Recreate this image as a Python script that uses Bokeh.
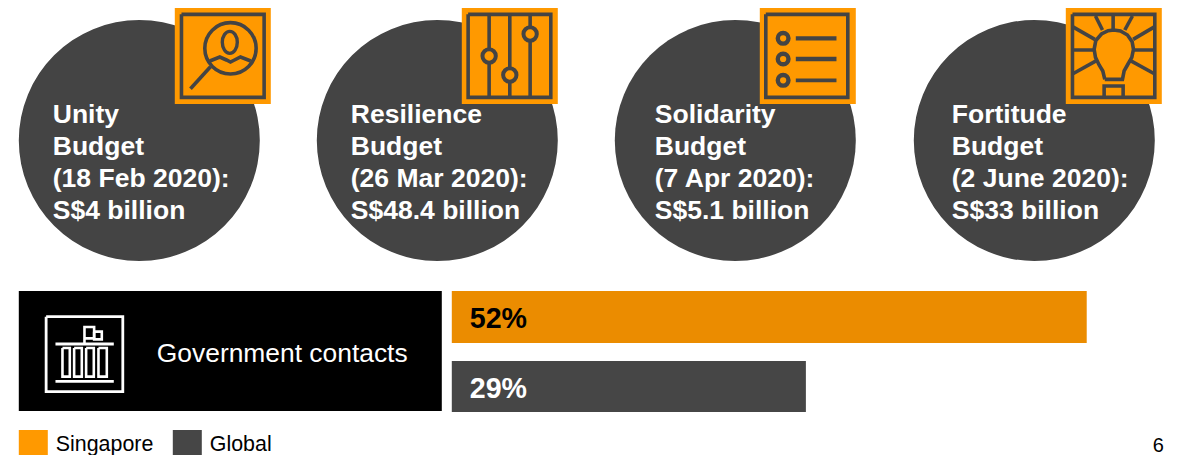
from bokeh.embed import file_html
from bokeh.resources import INLINE
from bokeh.plotting import figure
from bokeh.models import Range1d
from bokeh.core.properties import value

# Budget packages
budget_names = ["Unity", "Resilience", "Solidarity", "Fortitude"]
budget_dates = ["18 Feb 2020", "26 Mar 2020", "7 Apr 2020", "2 June 2020"]
budget_amounts = ["S$4 billion", "S$48.4 billion", "S$5.1 billion", "S$33 billion"]

# Share of respondents using government contacts
series_names = ["Singapore", "Global"]
series_values = [52, 29]
row_label = "Government contacts"
page_number = "6"

DARK = "#444444"
ORANGE = "#FF9900"
BAR_ORANGE = "#EB8C00"
BAR_DARK = "#464646"
FONT = "Liberation Sans"

W, H = 1181, 455
NUDGE_X, NUDGE_Y = 0.7, 0.5
p = figure(width=W, height=H, x_range=Range1d(NUDGE_X, W + NUDGE_X),
           y_range=Range1d(H + NUDGE_Y, NUDGE_Y),
           output_backend="svg", toolbar_location=None, min_border=0,
           background_fill_color="white", border_fill_color="white")
p.axis.visible = False
p.grid.visible = False
p.outline_line_color = None

# Percent scale for the bars: zero sits at pixel 452, 12.21 pixels per point
PX_PER_PCT = 12.21
BAR_ZERO = 452
p.extra_x_ranges["pct"] = Range1d((NUDGE_X - BAR_ZERO) / PX_PER_PCT,
                                  (W + NUDGE_X - BAR_ZERO) / PX_PER_PCT)


def label(x, y, s, size, color="black", bold=False, baseline="middle"):
    p.text([x], [y], text=[s], text_font=value(FONT), text_font_size=f"{size}px",
           text_color=color, text_baseline=baseline, text_align="left",
           text_font_style="bold" if bold else "normal")


def poly(points, ox, oy, color=DARK, width=3.6):
    """Stroke a path given in 3x local icon units relative to (ox, oy)."""
    p.line([ox + a / 3 for a, _ in points], [oy + b / 3 for _, b in points],
           line_color=color, line_width=width, line_join="miter")


def ring(cx, cy, r, ox, oy, color=DARK, width=3.6, fill=None):
    p.scatter([ox + cx / 3], [oy + cy / 3], size=2 * r / 3, marker="circle",
              line_color=color, line_width=width,
              fill_color=fill, fill_alpha=1 if fill else 0)


def frame(x0, x1, y0, y1, ox, oy, color=DARK, width=3.6):
    poly([(x0, y0), (x1, y0), (x1, y1), (x0, y1), (x0, y0)], ox, oy, color, width)


# Dark discs
disc_x = [139.5, 437.5, 735.5, 1034.5]
p.circle(disc_x, [140.5] * 4, radius=120.5, fill_color=DARK, line_color=None)

# Orange icon tiles
tile_left = [175, 462, 760, 1066]
p.quad(left=tile_left, right=[t + 96 for t in tile_left], top=[8] * 4, bottom=[104] * 4,
       fill_color=ORANGE, line_color=None)

# Magnifier with a person inside
ox = 170
frame(35, 283, 43, 292, ox, 0)
ring(182, 145, 77, ox, 0)
p.ellipse([ox + 180 / 3], [127 / 3], width=15, height=22, fill_color=None,
          line_color=DARK, line_width=3.4)
poly([(120, 183), (150, 171), (170, 180), (182, 186), (194, 180), (212, 171), (243, 183)], ox, 0)
poly([(122, 200), (62, 266)], ox, 0)

# Slider controls
ox = 455
frame(40, 288, 43, 292, ox, 0)
for lx in (103, 165, 226):
    poly([(lx, 43), (lx, 292)], ox, 0)
ring(103, 168, 20, ox, 0, fill=ORANGE, width=4)
ring(165, 225, 20, ox, 0, fill=ORANGE, width=4)
ring(226, 102, 20, ox, 0, fill=ORANGE, width=4)

# Checklist
ox = 755
frame(33, 279, 43, 292, ox, 0)
for ly, lw in ((115, 4.4), (177, 4.4), (241, 3.6)):
    ring(85, ly, 16, ox, 0, width=4.4)
    poly([(123, ly), (245, ly)], ox, 0, width=lw)

# Light bulb with rays
ox = 1060
frame(38, 285, 43, 292, ox, 0)
poly([(135, 238), (129, 213), (118, 195), (107, 172), (103, 148), (108, 122), (125, 102),
      (145, 92), (162, 90), (182, 93), (203, 105), (217, 125), (221, 148), (216, 172),
      (203, 195), (193, 213), (188, 238), (135, 238)], ox, 0)
poly([(133, 292), (133, 258), (190, 258), (190, 292)], ox, 0)
for ray in ([(160, 43), (160, 88)], [(107, 48), (128, 90)], [(218, 48), (195, 90)],
            [(38, 80), (105, 118)], [(285, 80), (220, 118)], [(38, 150), (103, 150)],
            [(285, 150), (222, 150)], [(38, 222), (110, 182)], [(285, 222), (212, 182)]):
    poly(ray, ox, 0)

# Disc captions
caption_x = [53, 351, 655, 952]
for cx, name, date, amount in zip(caption_x, budget_names, budget_dates, budget_amounts):
    for ly, line in zip((113.5, 145.5, 177.5, 209.5),
                        (name, "Budget", f"({date}):", amount)):
        label(cx, ly, line, 26.5, "#FFFFFF", bold=True)

# Black row header with government building icon
p.quad(left=[19], right=[442], top=[291], bottom=[411], fill_color="black", line_color=None)
ox, oy = 30, 305
WHITE = "#FFFFFF"
frame(49, 279, 35, 260, ox, oy, WHITE, 2.8)
poly([(77, 117), (252, 117)], ox, oy, WHITE, 2.8)
poly([(77, 229), (252, 229)], ox, oy, WHITE, 2.8)
for c0, c1 in ((98, 120), (133, 156), (169, 192), (206, 231)):
    frame(c0, c1, 129, 215, ox, oy, WHITE, 2.6)
poly([(164, 115), (164, 66), (193, 66), (193, 100), (164, 100)], ox, oy, WHITE, 2.6)
frame(193, 216, 80, 103, ox, oy, WHITE, 2.6)
label(157, 353, row_label, 26.4, "#FFFFFF")

# Percentage bars
bar_colors = [BAR_ORANGE, BAR_DARK]
bar_label_colors = ["#000000", "#FFFFFF"]
bar_top = [291, 361]
bar_bottom = [343, 412]
p.quad(left=[0, 0], right=series_values, top=bar_top, bottom=bar_bottom,
       fill_color=bar_colors, line_color=None, x_range_name="pct")
for t, b, v, c in zip(bar_top, bar_bottom, series_values, bar_label_colors):
    label(470, (t + b) / 2 + 1, f"{v}%", 28.6, c, bold=True)

# Legend
swatch_left = [19, 173]
swatch_colors = [ORANGE, BAR_DARK]
p.quad(left=swatch_left, right=[s + 29 for s in swatch_left], top=[430, 430], bottom=[456, 456],
       fill_color=swatch_colors, line_color=None)
for s, name in zip(swatch_left, series_names):
    label(s + 37, 443.5, name, 21.4)

# Page number, kept just inside the bottom edge
label(1153, 444.5, page_number, 20)

open("out.html", "w").write(file_html(p, INLINE))
